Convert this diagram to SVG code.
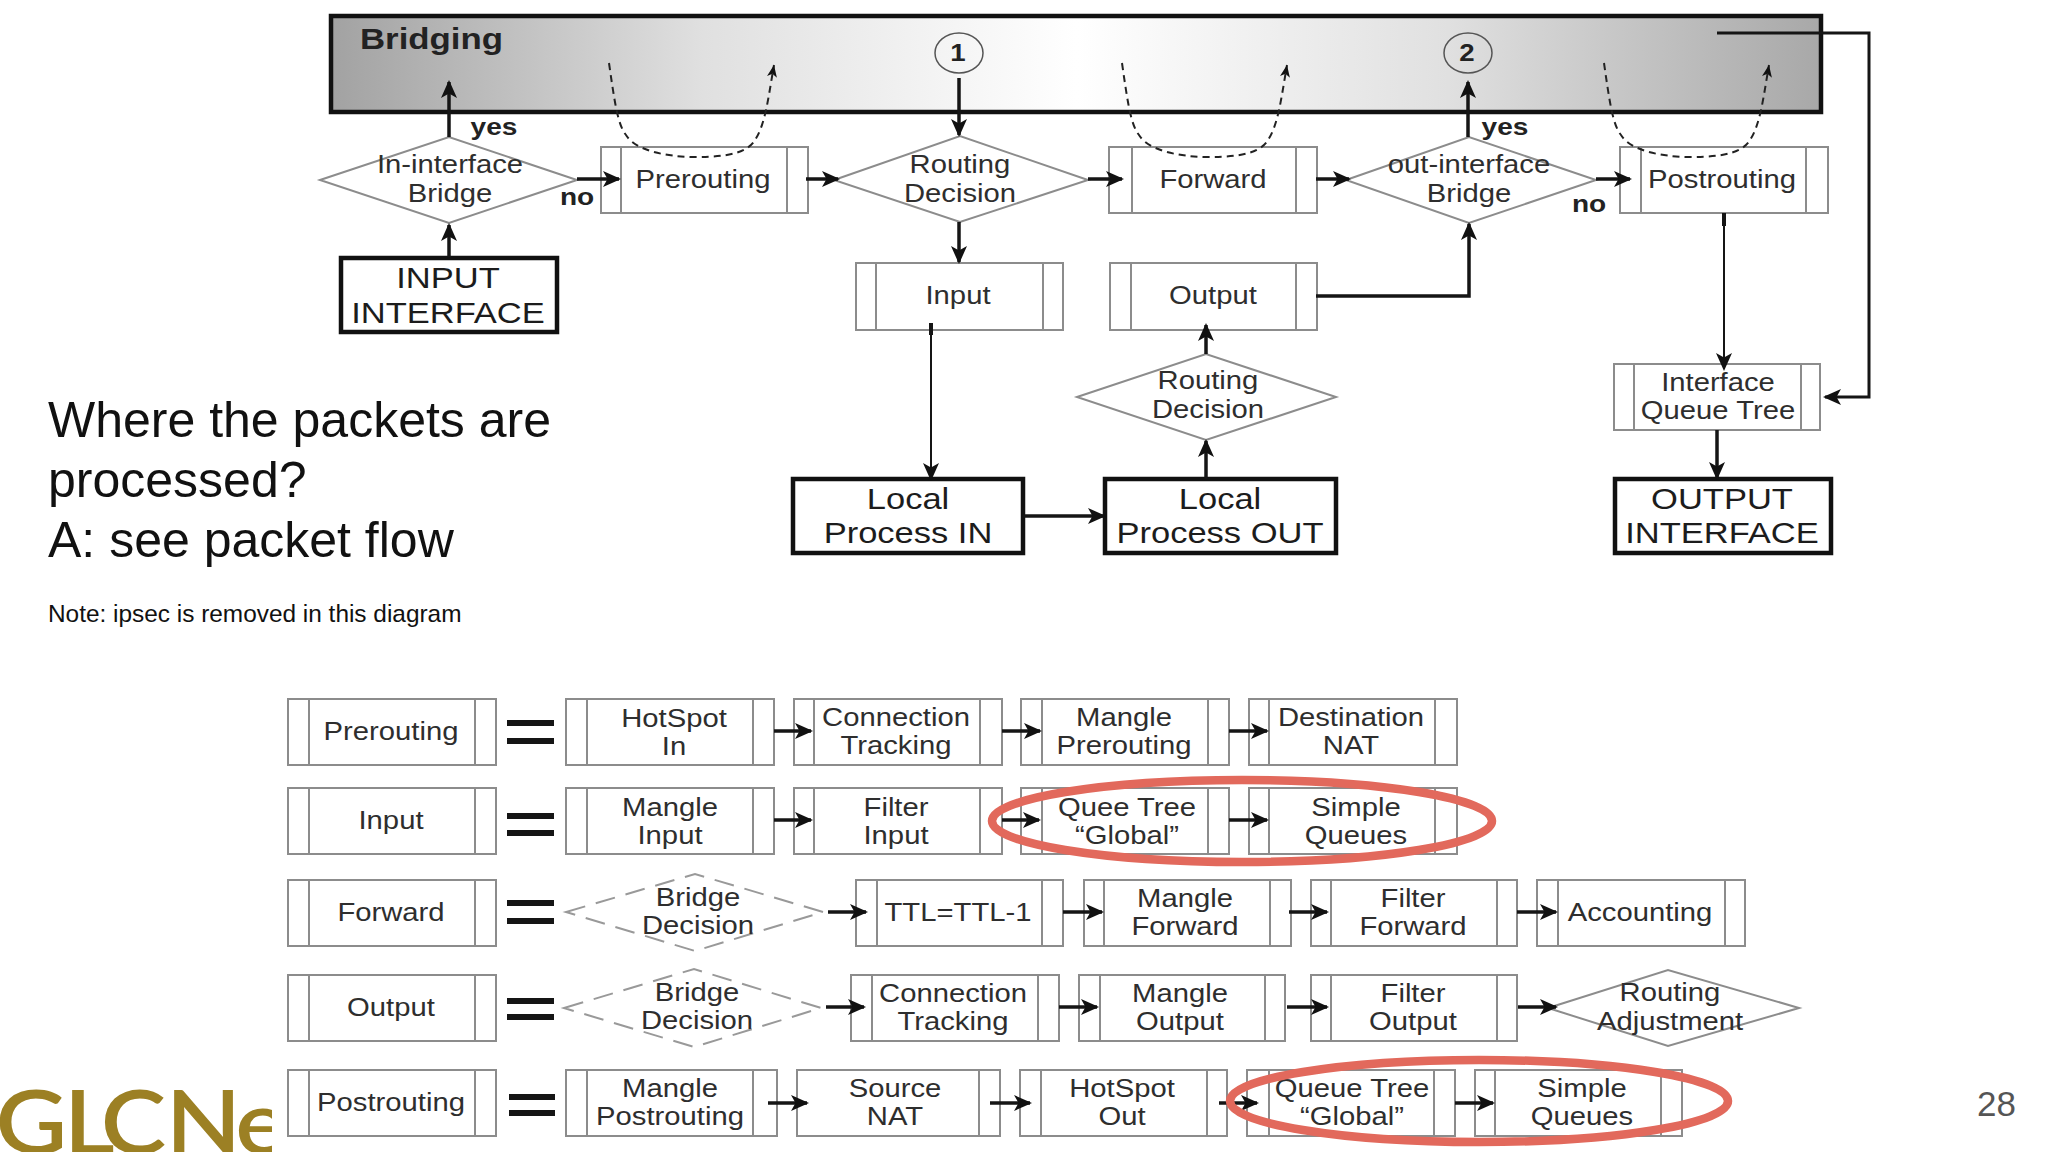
<svg xmlns="http://www.w3.org/2000/svg" width="2048" height="1152" viewBox="0 0 2048 1152">
<style>
text{font-family:"Liberation Sans",Arial,sans-serif}
.t{font-size:25px;fill:#2e2e2e;text-anchor:middle}
.b{font-size:29px;fill:#1c1c1c;text-anchor:middle}
.l{font-size:23px;font-weight:bold;fill:#222;text-anchor:middle}
.p{fill:none;stroke:#8c8c8c;stroke-width:2}
.k{fill:#fff;stroke:#111;stroke-width:4.5}
.d{fill:none;stroke:#8c8c8c;stroke-width:2}
.dd{fill:none;stroke:#999;stroke-width:2;stroke-dasharray:20 11}
.a{fill:none;stroke:#151515;stroke-width:3.5;marker-end:url(#h)}
.n{fill:none;stroke:#151515;stroke-width:2;marker-end:url(#h)}
.c{fill:none;stroke:#222;stroke-width:2;stroke-dasharray:7 5;marker-end:url(#s)}
.e{fill:none;stroke:#151515;stroke-width:6}
.r{fill:none;stroke:#e2695c;stroke-width:8.5}
.m{font-size:50px;fill:#111}
</style>
<defs>
<linearGradient id="g" x1="0" x2="1" y1="0" y2="0">
<stop offset="0" stop-color="#a2a2a2"/><stop offset=".25" stop-color="#e0e0e0"/><stop offset=".5" stop-color="#fff"/><stop offset=".75" stop-color="#e0e0e0"/><stop offset="1" stop-color="#a8a8a8"/>
</linearGradient>
<marker id="h" markerUnits="userSpaceOnUse" markerWidth="20" markerHeight="18" refX="16" refY="8" orient="auto"><path d="M0 0L18 8L0 16L4.5 8Z" fill="#111"/></marker>
<marker id="s" markerUnits="userSpaceOnUse" markerWidth="14" markerHeight="14" refX="12" refY="6" orient="auto"><path d="M0 1L12 6L0 11L3 6Z" fill="#111"/></marker>
<clipPath id="logo"><rect x="0" y="1060" width="272" height="92"/></clipPath>
</defs>
<rect width="2048" height="1152" fill="#fff"/>

<g id="bridging">
<rect x="331" y="16" width="1490" height="96" fill="url(#g)" stroke="#111" stroke-width="4.5"/>
<text font-size="29" font-weight="bold" fill="#222" transform="translate(360 49) scale(1.2 1)">Bridging</text>
</g>
<g id="marker-1"><ellipse cx="959" cy="53" rx="24" ry="20" fill="none" stroke="#555" stroke-width="1.5"/><text class="l" transform="translate(958 61) scale(1.2 1)">1</text></g>
<g id="marker-2"><ellipse cx="1468" cy="53" rx="24" ry="20" fill="none" stroke="#555" stroke-width="1.5"/><text class="l" transform="translate(1467 61) scale(1.2 1)">2</text></g>

<g id="in-bridge"><path class="d" d="M320 180L449 137L577 180L449 223Z"/><text class="t" transform="translate(450 173) scale(1.17 1)">In-interface<tspan x="0" dy="29">Bridge</tspan></text></g>
<g id="prerouting"><rect class="p" x="601" y="147" width="207" height="66"/><path class="p" d="M621 147V213M787 147V213"/><text class="t" transform="translate(703 188) scale(1.17 1)">Prerouting</text></g>
<g id="routing-1"><path class="d" d="M834 180L960 136L1088 180L960 222Z"/><text class="t" transform="translate(960 173) scale(1.17 1)">Routing<tspan x="0" dy="29">Decision</tspan></text></g>
<g id="forward"><rect class="p" x="1109" y="147" width="208" height="66"/><path class="p" d="M1132 147V213M1296 147V213"/><text class="t" transform="translate(1213 188) scale(1.17 1)">Forward</text></g>
<g id="out-bridge"><path class="d" d="M1346 180L1469 137L1596 180L1469 223Z"/><text class="t" transform="translate(1469 173) scale(1.17 1)">out-interface<tspan x="0" dy="29">Bridge</tspan></text></g>
<g id="postrouting"><rect class="p" x="1620" y="147" width="208" height="66"/><path class="p" d="M1641 147V213M1806 147V213"/><text class="t" transform="translate(1722 188) scale(1.17 1)">Postrouting</text></g>
<g id="input-interface"><rect class="k" x="341" y="258" width="216" height="74"/><text class="b" transform="translate(448 288) scale(1.19 1)">INPUT<tspan x="0" dy="35">INTERFACE</tspan></text></g>
<g id="input"><rect class="p" x="856" y="263" width="207" height="67"/><path class="p" d="M876 263V330M1043 263V330"/><text class="t" transform="translate(958 304) scale(1.17 1)">Input</text></g>
<g id="output"><rect class="p" x="1110" y="263" width="207" height="67"/><path class="p" d="M1131 263V330M1296 263V330"/><text class="t" transform="translate(1213 304) scale(1.17 1)">Output</text></g>
<g id="routing-2"><path class="d" d="M1077 397L1206 354L1336 397L1206 440Z"/><text class="t" transform="translate(1208 389) scale(1.17 1)">Routing<tspan x="0" dy="29">Decision</tspan></text></g>
<g id="queue-tree"><rect class="p" x="1614" y="364" width="206" height="66"/><path class="p" d="M1634 364V430M1801 364V430"/><text class="t" transform="translate(1718 391) scale(1.17 1)">Interface<tspan x="0" dy="28">Queue Tree</tspan></text></g>
<g id="local-in"><rect class="k" x="793" y="479" width="230" height="74"/><text class="b" transform="translate(908 509) scale(1.19 1)">Local<tspan x="0" dy="34">Process IN</tspan></text></g>
<g id="local-out"><rect class="k" x="1105" y="479" width="231" height="74"/><text class="b" transform="translate(1220 509) scale(1.19 1)">Local<tspan x="0" dy="34">Process OUT</tspan></text></g>
<g id="output-interface"><rect class="k" x="1615" y="479" width="216" height="74"/><text class="b" transform="translate(1722 509) scale(1.19 1)">OUTPUT<tspan x="0" dy="34">INTERFACE</tspan></text></g>

<g id="labels">
<text class="l" transform="translate(494 135) scale(1.22 1)">yes</text>
<text class="l" transform="translate(577 205) scale(1.22 1)">no</text>
<text class="l" transform="translate(1505 135) scale(1.22 1)">yes</text>
<text class="l" transform="translate(1589 212) scale(1.22 1)">no</text>
</g>

<g id="connectors">
<path class="a" d="M449 137V82"/>
<path class="a" d="M449 257V225"/>
<path class="a" d="M577 179H619"/>
<path class="a" d="M806 179H838"/>
<path class="a" d="M959 78V135"/>
<path class="a" d="M959 222V262"/>
<path class="a" d="M1088 179H1122"/>
<path class="a" d="M1316 179H1349"/>
<path class="a" d="M1468 137V82"/>
<path class="a" d="M1596 179H1630"/>
<path class="a" d="M1316 296H1469V224"/>
<path class="n" d="M931 323V479"/>
<path class="e" style="stroke-width:4" d="M931 323V335"/>
<path class="a" d="M1023 516H1104"/>
<path class="a" d="M1206 479V441"/>
<path class="a" d="M1206 354V325"/>
<path class="n" d="M1724 213V369"/>
<path class="e" style="stroke-width:4" d="M1724 213V226"/>
<path class="a" d="M1717 430V478"/>
<path class="n" style="stroke-width:3" d="M1717 33H1869V397H1825"/>
<path class="c" d="M609 63C615 105 618 125 626 135C635 150 665 157 696 157C730 157 748 152 755 140C765 125 768 100 774 65"/>
<path class="c" d="M1122 63C1128 105 1131 125 1139 135C1148 150 1178 157 1209 157C1243 157 1261 152 1268 140C1278 125 1281 100 1287 65"/>
<path class="c" d="M1604 63C1610 105 1613 125 1621 135C1630 150 1660 157 1691 157C1725 157 1743 152 1750 140C1760 125 1763 100 1769 65"/>
</g>

<g id="left-text">
<text class="m" x="48" y="437">Where the packets are</text>
<text class="m" x="48" y="497">processed?</text>
<text class="m" x="48" y="557">A: see packet flow</text>
<text x="48" y="622" font-size="24.4" fill="#111">Note: ipsec is removed in this diagram</text>
</g>

<g id="row-prerouting">
<g id="r1-name"><rect class="p" x="288" y="699" width="208" height="66"/><path class="p" d="M309 699V765M475 699V765"/><text class="t" transform="translate(391 740) scale(1.17 1)">Prerouting</text></g>
<path class="e" d="M507 723H554M507 741H554"/>
<g id="r1-hotspot"><rect class="p" x="566" y="699" width="208" height="66"/><path class="p" d="M587 699V765M753 699V765"/><text class="t" transform="translate(674 727) scale(1.17 1)">HotSpot<tspan x="0" dy="28">In</tspan></text></g>
<g id="r1-conn"><rect class="p" x="794" y="699" width="208" height="66"/><path class="p" d="M814 699V765M980 699V765"/><text class="t" transform="translate(896 726) scale(1.17 1)">Connection<tspan x="0" dy="28">Tracking</tspan></text></g>
<g id="r1-mangle"><rect class="p" x="1021" y="699" width="208" height="66"/><path class="p" d="M1042 699V765M1208 699V765"/><text class="t" transform="translate(1124 726) scale(1.17 1)">Mangle<tspan x="0" dy="28">Prerouting</tspan></text></g>
<g id="r1-dnat"><rect class="p" x="1249" y="699" width="208" height="66"/><path class="p" d="M1269 699V765M1435 699V765"/><text class="t" transform="translate(1351 726) scale(1.17 1)">Destination<tspan x="0" dy="28">NAT</tspan></text></g>
</g>

<g id="row-input">
<g id="r2-name"><rect class="p" x="288" y="788" width="208" height="66"/><path class="p" d="M309 788V854M475 788V854"/><text class="t" transform="translate(391 829) scale(1.17 1)">Input</text></g>
<path class="e" d="M507 816H554M507 833H554"/>
<g id="r2-mangle"><rect class="p" x="566" y="788" width="208" height="66"/><path class="p" d="M587 788V854M753 788V854"/><text class="t" transform="translate(670 816) scale(1.17 1)">Mangle<tspan x="0" dy="28">Input</tspan></text></g>
<g id="r2-filter"><rect class="p" x="794" y="788" width="208" height="66"/><path class="p" d="M814 788V854M980 788V854"/><text class="t" transform="translate(896 816) scale(1.17 1)">Filter<tspan x="0" dy="28">Input</tspan></text></g>
<g id="r2-tree"><rect class="p" x="1021" y="788" width="208" height="66"/><path class="p" d="M1042 788V854M1208 788V854"/><text class="t" transform="translate(1127 816) scale(1.17 1)">Quee Tree<tspan x="0" dy="28">“Global”</tspan></text></g>
<g id="r2-simple"><rect class="p" x="1249" y="788" width="208" height="66"/><path class="p" d="M1269 788V854M1435 788V854"/><text class="t" transform="translate(1356 816) scale(1.17 1)">Simple<tspan x="0" dy="28">Queues</tspan></text></g>
</g>

<g id="row-forward">
<g id="r3-name"><rect class="p" x="288" y="880" width="208" height="66"/><path class="p" d="M309 880V946M475 880V946"/><text class="t" transform="translate(391 921) scale(1.17 1)">Forward</text></g>
<path class="e" d="M507 903H554M507 921H554"/>
<g id="r3-bridge"><path class="dd" d="M566 912L695 874L823 912L695 951Z"/><text class="t" transform="translate(698 906) scale(1.17 1)">Bridge<tspan x="0" dy="28">Decision</tspan></text></g>
<g id="r3-ttl"><rect class="p" x="856" y="880" width="207" height="66"/><path class="p" d="M877 880V946M1042 880V946"/><text class="t" transform="translate(958 921) scale(1.17 1)">TTL=TTL-1</text></g>
<g id="r3-mangle"><rect class="p" x="1084" y="880" width="207" height="66"/><path class="p" d="M1104 880V946M1270 880V946"/><text class="t" transform="translate(1185 907) scale(1.17 1)">Mangle<tspan x="0" dy="28">Forward</tspan></text></g>
<g id="r3-filter"><rect class="p" x="1311" y="880" width="206" height="66"/><path class="p" d="M1331 880V946M1497 880V946"/><text class="t" transform="translate(1413 907) scale(1.17 1)">Filter<tspan x="0" dy="28">Forward</tspan></text></g>
<g id="r3-acct"><rect class="p" x="1537" y="880" width="208" height="66"/><path class="p" d="M1558 880V946M1725 880V946"/><text class="t" transform="translate(1640 921) scale(1.17 1)">Accounting</text></g>
</g>

<g id="row-output">
<g id="r4-name"><rect class="p" x="288" y="975" width="208" height="66"/><path class="p" d="M309 975V1041M475 975V1041"/><text class="t" transform="translate(391 1016) scale(1.17 1)">Output</text></g>
<path class="e" d="M507 1001H554M507 1017H554"/>
<g id="r4-bridge"><path class="dd" d="M564 1008L694 969L821 1008L694 1047Z"/><text class="t" transform="translate(697 1001) scale(1.17 1)">Bridge<tspan x="0" dy="28">Decision</tspan></text></g>
<g id="r4-conn"><rect class="p" x="851" y="975" width="208" height="66"/><path class="p" d="M872 975V1041M1038 975V1041"/><text class="t" transform="translate(953 1002) scale(1.17 1)">Connection<tspan x="0" dy="28">Tracking</tspan></text></g>
<g id="r4-mangle"><rect class="p" x="1079" y="975" width="206" height="66"/><path class="p" d="M1100 975V1041M1265 975V1041"/><text class="t" transform="translate(1180 1002) scale(1.17 1)">Mangle<tspan x="0" dy="28">Output</tspan></text></g>
<g id="r4-filter"><rect class="p" x="1311" y="975" width="206" height="66"/><path class="p" d="M1331 975V1041M1497 975V1041"/><text class="t" transform="translate(1413 1002) scale(1.17 1)">Filter<tspan x="0" dy="28">Output</tspan></text></g>
<g id="r4-adjust"><path class="d" d="M1548 1008L1668 970L1799 1008L1668 1046Z"/><text class="t" transform="translate(1670 1001) scale(1.17 1)">Routing<tspan x="0" dy="29">Adjustment</tspan></text></g>
</g>

<g id="row-postrouting">
<g id="r5-name"><rect class="p" x="288" y="1070" width="208" height="66"/><path class="p" d="M309 1070V1136M475 1070V1136"/><text class="t" transform="translate(391 1111) scale(1.17 1)">Postrouting</text></g>
<path class="e" d="M509 1097H555M509 1113H555"/>
<g id="r5-mangle"><rect class="p" x="566" y="1070" width="211" height="66"/><path class="p" d="M587 1070V1136M753 1070V1136"/><text class="t" transform="translate(670 1097) scale(1.17 1)">Mangle<tspan x="0" dy="28">Postrouting</tspan></text></g>
<g id="r5-snat"><rect class="p" x="797" y="1070" width="203" height="66"/><path class="p" d="M979 1070V1136"/><text class="t" transform="translate(895 1097) scale(1.17 1)">Source<tspan x="0" dy="28">NAT</tspan></text></g>
<g id="r5-hotspot"><rect class="p" x="1020" y="1070" width="207" height="66"/><path class="p" d="M1041 1070V1136M1207 1070V1136"/><text class="t" transform="translate(1122 1097) scale(1.17 1)">HotSpot<tspan x="0" dy="28">Out</tspan></text></g>
<g id="r5-tree"><rect class="p" x="1247" y="1070" width="208" height="66"/><path class="p" d="M1269 1070V1136M1434 1070V1136"/><text class="t" transform="translate(1352 1097) scale(1.17 1)">Queue Tree<tspan x="0" dy="28">“Global”</tspan></text></g>
<g id="r5-simple"><rect class="p" x="1475" y="1070" width="207" height="66"/><path class="p" d="M1495 1070V1136M1661 1070V1136"/><text class="t" transform="translate(1582 1097) scale(1.17 1)">Simple<tspan x="0" dy="28">Queues</tspan></text></g>
</g>

<g id="row-connectors">
<path class="a" d="M774 731H811"/><path class="a" d="M1002 731H1040"/><path class="a" d="M1229 731H1267"/>
<path class="a" d="M774 820H811"/><path class="a" d="M1002 820H1039"/><path class="a" d="M1229 820H1267"/>
<path class="a" d="M828 912H866"/><path class="a" d="M1063 912H1102"/><path class="a" d="M1289 912H1327"/><path class="a" d="M1517 912H1556"/>
<path class="a" d="M826 1007H864"/><path class="a" d="M1059 1007H1097"/><path class="a" d="M1287 1007H1327"/><path class="a" d="M1518 1007H1556"/>
<path class="a" d="M768 1103H807"/><path class="a" d="M990 1103H1030"/><path class="a" d="M1219 1103H1257"/><path class="a" d="M1455 1103H1493"/>
</g>

<g id="highlights">
<ellipse class="r" cx="1242" cy="821" rx="250" ry="41"/>
<ellipse class="r" cx="1479" cy="1101" rx="249" ry="41"/>
</g>

<g id="footer">
<g clip-path="url(#logo)"><text x="-4 57 90 148 210" y="1154" transform="scale(1.12 1)" font-size="88" style="font-family:Lato,'Liberation Sans',sans-serif" font-weight="600" fill="#9c8024">GLCNe</text></g>
<text x="1977" y="1116" font-size="35" fill="#555">28</text>
</g>
</svg>
